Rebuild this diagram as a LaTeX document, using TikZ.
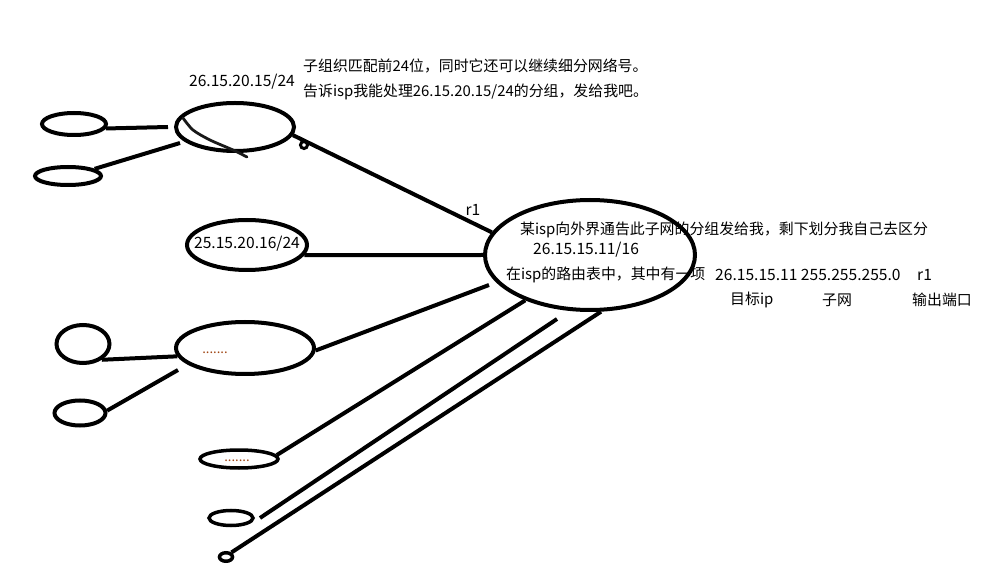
\documentclass[tikz,border=0pt]{standalone}
\usepackage{fontspec}
\setmainfont{Noto Sans CJK SC}
\usetikzlibrary{shapes.geometric}
\definecolor{dotc}{RGB}{160,70,20}
\begin{document}
\begin{tikzpicture}[x=1pt,y=-1pt,
  ring/.style={draw, ellipse, line width=4pt, inner sep=0pt},
  thinring/.style={draw, ellipse, line width=3.5pt, inner sep=0pt},
  link/.style={line width=4pt},
  txt/.style={font=\fontsize{14.9}{17}\selectfont, inner sep=0pt, anchor=west},
  numtxt/.style={font=\fontsize{15.6}{18}\selectfont, inner sep=0pt, anchor=west},
  dotstxt/.style={font=\fontsize{13}{15}\selectfont, inner sep=0pt, text=dotc}]
\fill[white] (0,0) rectangle (994,585);
\useasboundingbox (0,0) rectangle (994,585);

% ellipses
\node[ring, minimum width=210pt, minimum height=110pt] (isp) at (590,255) {};
\node[ring, minimum width=118pt, minimum height=48pt] (t) at (235,127) {};
\node[ring, minimum width=64pt, minimum height=22pt] (l1) at (74,124) {};
\node[ring, minimum width=66pt, minimum height=18pt] (l2) at (68,176) {};
\node[ring, minimum width=120pt, minimum height=50pt] (m) at (247,245) {};
\node[ring, minimum width=138pt, minimum height=52pt] (d) at (245,348) {};
\node[ring, minimum width=53pt, minimum height=38pt] (c1) at (83,344) {};
\node[ring, minimum width=51pt, minimum height=25pt] (c2) at (80,413) {};
\node[thinring, minimum width=78pt, minimum height=18pt] (e1) at (239,459) {};
\node[thinring, minimum width=44pt, minimum height=15pt] (e2) at (231,518) {};
\node[thinring, minimum width=13pt, minimum height=8.5pt] (e3) at (226,557) {};
\node[draw, circle, line width=3pt, minimum size=7pt, inner sep=0pt] (curl) at (304,145) {};

% free ends
\coordinate (tl) at (168,127);
\coordinate (tl2) at (180,143);
\coordinate (dr) at (489,285);
\coordinate (dl) at (178,370);
\coordinate (b2s) at (557,319);
\coordinate (b2e) at (260,518);

% connectors
\draw[link] (t.-8) -- (isp.167);
\draw[link] (l1.-8) -- (tl);
\draw[link] (l2.15) -- (tl2);
\draw[link] (m.-10) -- (isp.180);
\draw[link] (d.-2) -- (dr);
\draw[link] (c1.-40) -- (d.187);
\draw[link] (c2.5) -- (dl);
\draw[link] (isp.215) -- (e1.6);
\draw[link] (b2s) -- (b2e);
\draw[link] (isp.281) -- (e3.40);

% hand stroke inside the top ellipse
\draw[line width=2.8pt, black!90, line cap=round] plot[smooth] coordinates {(183,118) (193,130) (210,140) (233,150) (247,157)};

% texts
\node[numtxt, anchor=center] (tlab) at (242,82) {26.15.20.15/24};
\node[txt] (n1) at (303,66) {子组织匹配前24位，同时它还可以继续细分网络号。};
\node[txt] (n2) at (303,92) {告诉isp我能处理26.15.20.15/24的分组，发给我吧。};
\node[numtxt, anchor=center] (mlab) at (247,244) {25.15.20.16/24};
\node[numtxt, anchor=center] (r1a) at (473,210) {r1};
\node[txt] (n3) at (520,230) {某isp向外界通告此子网的分组发给我，剩下划分我自己去区分};
\node[numtxt] (n4) at (533,250) {26.15.15.11/16};
\node[txt] (n5) at (506,275) {在isp的路由表中，其中有一项};
\node[numtxt] (n6) at (715,275) {26.15.15.11 255.255.255.0};
\node[numtxt] (n7) at (917,275) {r1};
\node[txt] (h1) at (730,300) {目标ip};
\node[txt] (h2) at (822,300) {子网};
\node[txt] (h3) at (912,300) {输出端口};
\node[dotstxt] (dd1) at (215,353) {.......};
\node[dotstxt] (dd2) at (237,461) {.......};
\end{tikzpicture}
\end{document}
